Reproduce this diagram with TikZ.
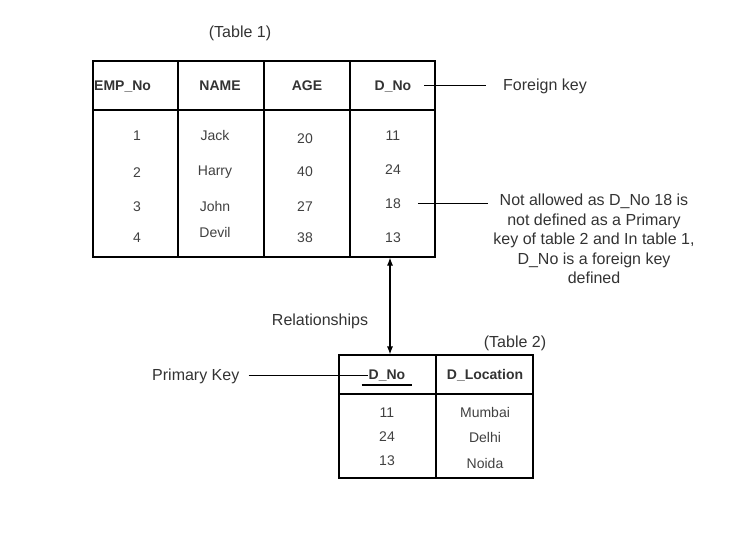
\documentclass[tikz,border=0pt]{standalone}
\usepackage{fontspec}
\setmainfont{Liberation Sans}
\usetikzlibrary{arrows.meta}
\definecolor{txtgray}{HTML}{333333}
\definecolor{valgray}{HTML}{404040}

\begin{document}
\begin{tikzpicture}[x=1pt, y=-1pt,
    hdr/.style={font=\fontsize{14}{16}\selectfont\bfseries, text=txtgray, inner sep=1pt, text height=10pt, text depth=0pt},
    val/.style={font=\fontsize{14}{16}\selectfont, text=valgray, inner sep=1pt, text height=10pt, text depth=0pt},
    lbl/.style={font=\fontsize{16}{19.5}\selectfont, text=txtgray, inner sep=1pt, text height=11.5pt, text depth=0pt},
    notetxt/.style={font=\fontsize{16}{19.5}\selectfont, text=txtgray, inner sep=1pt, align=center},
    tbl/.style={draw, line width=1.1pt, inner sep=0pt}]
    \useasboundingbox (0,0) rectangle (754,547);

    % table 1
    \node[tbl, minimum width=342pt, minimum height=196pt] (tab1) at (264,159) {};
    \draw[line width=1.1pt] (93,110) -- (435,110);
    \foreach \x in {178,264,350} \draw[line width=1.1pt] (\x,61) -- (\x,257);
    \node[lbl] (cap1) at (240,32) {(Table 1)};

    \node[hdr, right] (h1) at (93,85) {EMP\_No};
    \node[hdr] (h2) at (220,85) {NAME};
    \node[hdr] (h3) at (307,85) {AGE};
    \node[hdr] (h4) at (393,85) {D\_No};

    \foreach \t/\y [count=\i] in {1/135,2/172,3/206,4/237}
        \node[val] (e\i) at (137,\y) {\t};
    \foreach \t/\y [count=\i] in {Jack/135,Harry/170,John/206,Devil/232}
        \node[val] (n\i) at (215,\y) {\t};
    \foreach \t/\y [count=\i] in {20/138,40/171,27/206,38/237}
        \node[val] (a\i) at (305,\y) {\t};
    \foreach \t/\y [count=\i] in {11/135,24/169,18/203,13/237}
        \node[val] (d\i) at (393,\y) {\t};

    \node[lbl, right] (fk) at (502,85) {Foreign key};
    \draw ([xshift=12pt]h4.east) -- ([xshift=-16pt]h4.east -| fk.west);

    \node[notetxt] (note) at (594,239) {Not allowed as D\_No 18 is\\
        not defined as a Primary\\key of table 2 and In table 1,\\
        D\_No is a foreign key\\defined};
    \draw ([xshift=16pt]d3.east) -- ([xshift=-4pt]d3.east -| note.west);

    % table 2
    \node[tbl, minimum width=194pt, minimum height=123pt] (tab2) at (436,416.5) {};
    \draw[line width=1.1pt] (339,394) -- (533,394);
    \draw[line width=1.1pt] (tab2.north) -- (tab2.south);
    \node[lbl] (cap2) at (515,342) {(Table 2)};

    \node[hdr] (k1) at (387,374) {D\_No};
    \node[hdr] (k2) at (485,374) {D\_Location};
    \draw[line width=2.5pt] ([xshift=-6pt, yshift=-5pt]k1.south west) -- ([xshift=6pt, yshift=-5pt]k1.south east);

    \foreach \t/\y [count=\i] in {11/412,24/436,13/460}
        \node[val] (m\i) at (387,\y) {\t};
    \foreach \t/\y [count=\i] in {Mumbai/412,Delhi/437,Noida/463}
        \node[val] (l\i) at (485,\y) {\t};

    \node[lbl, right] (pk) at (151,375) {Primary Key};
    \draw ([xshift=8pt]pk.east) -- (pk.east -| k1.west);

    % relationship
    \node[lbl] (rel) at (320,320) {Relationships};
    \draw[{Latex[length=8pt, width=6pt]}-{Latex[length=8pt, width=6pt]}, line width=1.1pt]
        ([xshift=126pt]tab1.south) -- ([xshift=126pt]tab1.south |- tab2.north);
\end{tikzpicture}
\end{document}
